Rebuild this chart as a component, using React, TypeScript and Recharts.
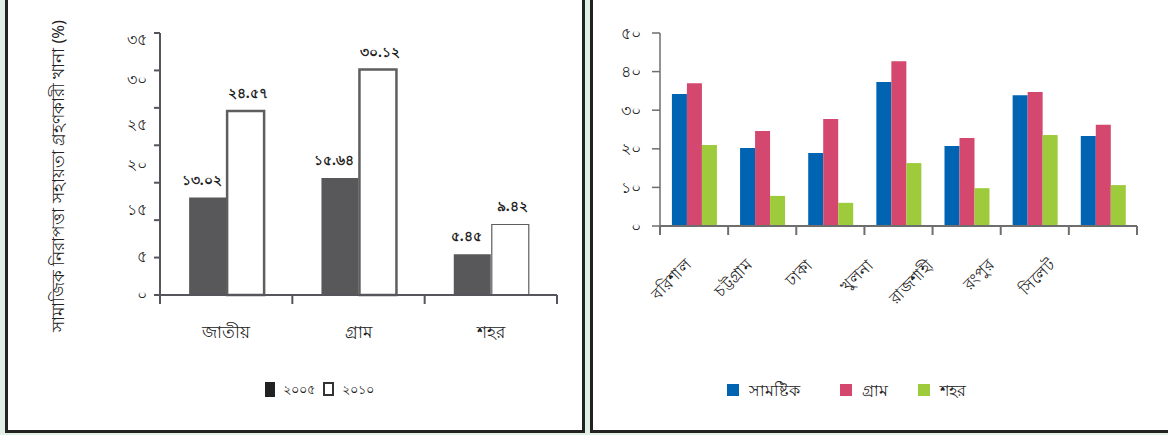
import { BarChart, Bar, XAxis, YAxis, LabelList, Cell } from 'recharts';

const BN_DIGITS = '০১২৩৪৫৬৭৮৯';
const toBn = (s: string | number) => String(s).replace(/\d/g, (d) => BN_DIGITS[+d]);

// left panel: social safety net beneficiary households (%)
const areas = ['জাতীয়', 'গ্রাম', 'শহর'];
const share2005 = [13.02, 15.64, 5.45];
const share2010 = [24.57, 30.12, 9.42];
const years = ['২০০৫', '২০১০'];
const leftTicks = [0, 5, 10, 15, 20, 25, 30, 35];
// the printed tick labels sit a little off the tick marks in the original
const leftLabelPos = [0, 5.1, 11.3, 17.3, 22.7, 28.7, 34];
const leftLabelText = ['০', '৫', '১৫', '২০', '২৫', '৩০', '৩৫'];
const leftTitle = 'সামাজিক নিরাপত্তা সহায়তা গ্রহণকারী খানা (%)';

// right panel: by division
const divisions = ['বরিশাল', 'চট্টগ্রাম', 'ঢাকা', 'খুলনা', 'রাজশাহী', 'রংপুর', 'সিলেট'];
const national = [34.2, 20.2, 18.9, 37.3, 20.7, 33.9, 23.3];
const rural = [37.0, 24.6, 27.7, 42.7, 22.8, 34.7, 26.2];
const urban = [21.0, 7.8, 6.0, 16.3, 9.8, 23.6, 10.6];
const seriesNames = ['সামষ্টিক', 'গ্রাম', 'শহর'];
const rightTicks = [0, 10, 20, 30, 40, 50];

const leftData = areas.map((a, i) => ({ area: a, y2005: share2005[i], y2010: share2010[i] }));
const rightData = divisions.map((d, i) => ({ div: d, national: national[i], rural: rural[i], urban: urban[i] }));

const FONT = '"Noto Sans", "DejaVu Sans", sans-serif';
const AXIS = '#6e6e6e';
const L_AXIS = '#55555c';
const DARK = '#58585a';
const COLORS = ['#0064b2', '#d4476e', '#9ecb3c'];

// layout
const L_W = 580, L_H = 433, L_M = { top: 33, right: 28, left: 0, bottom: 0 };
const L_YW = 155, L_XH = 138;
const L_PLOT_H = L_H - L_M.top - L_XH;
const L_MAX = 35;
const L_BAND = (L_W - L_YW - L_M.right) / areas.length;
const R_W = 578, R_H = 433, R_M = { top: 33, right: 31, left: 0, bottom: 0 };
const R_PLOT_LEFT = 70;
const R_BAND = (R_W - R_PLOT_LEFT - R_M.right) / divisions.length;

const LeftYTick = (props: any) => {
  const { y, index } = props;
  const text = leftLabelText[index];
  if (text === undefined) return null;
  const ly = y + ((leftTicks[index] - leftLabelPos[index]) * L_PLOT_H) / L_MAX;
  return (
    <text x={L_YW - 13} y={ly} dy={5} textAnchor="end" fontSize={16} fill="#222" fontFamily={FONT}>
      {text}
    </text>
  );
};

const LeftXTick = (props: any) => {
  const { x, y, payload, index } = props;
  const last = index === areas.length - 1;
  return (
    <g>
      <line x1={x - L_BAND / 2} x2={x - L_BAND / 2} y1={y} y2={y + 9} stroke={L_AXIS} strokeWidth={2} />
      {last && <line x1={x + L_BAND / 2} x2={x + L_BAND / 2} y1={y} y2={y + 9} stroke={L_AXIS} strokeWidth={2} />}
      <text x={x} y={y + 43} textAnchor="middle" fontSize={17} fill="#222" fontFamily={FONT}>
        {payload.value}
      </text>
    </g>
  );
};

const RightXTick = (props: any) => {
  const { x, y, payload, index } = props;
  const last = index === divisions.length - 1;
  // labels in the original are packed slightly tighter than the bands
  const lx = R_PLOT_LEFT + (x - R_PLOT_LEFT) * 0.89 + 2;
  const ly = y + 40;
  return (
    <g>
      <line x1={x - R_BAND / 2} x2={x - R_BAND / 2} y1={y} y2={y + 9} stroke={AXIS} strokeWidth={2} />
      {last && <line x1={x + R_BAND / 2} x2={x + R_BAND / 2} y1={y} y2={y + 9} stroke={AXIS} strokeWidth={2} />}
      <text x={lx} y={ly} textAnchor="end" fontSize={16} fill="#222" fontFamily={FONT} transform={`rotate(-45 ${lx} ${ly})`}>
        {payload.value}
      </text>
    </g>
  );
};

const LeftTitle = () => (
  <text x={59} y={176} transform="rotate(-90 59 176)" textAnchor="middle" fontSize={16.5} fill="#222" fontFamily={FONT}>
    {leftTitle}
  </text>
);

export default function App() {
  return (
    <div style={{ position: 'absolute', left: 0, top: 0, width: 1168, height: 435, background: '#e1f0e7', fontFamily: FONT, overflow: 'hidden' }}>
      {/* panel frames */}
      <div style={{ position: 'absolute', left: 5, top: -3, width: 574, height: 430, border: '3px solid #222', background: '#fff' }} />
      <div style={{ position: 'absolute', left: 590, top: -3, width: 577, height: 430, borderTop: '3px solid #222', borderLeft: '3px solid #222', borderBottom: '3px solid #222', borderRight: '1px solid #aaa', background: '#fff' }} />

      {/* left chart */}
      <div style={{ position: 'absolute', left: 5, top: 0 }}>
        <BarChart width={L_W} height={L_H} data={leftData} margin={L_M} barCategoryGap="22%" barGap={1}>
          <XAxis dataKey="area" height={L_XH} interval={0} tickSize={0} tickMargin={0} tickLine={false} axisLine={{ stroke: L_AXIS, strokeWidth: 2 }} tick={<LeftXTick />} />
          <YAxis width={L_YW} type="number" domain={[0, L_MAX]} ticks={leftTicks} interval={0} tickSize={6} tickMargin={0}
            axisLine={{ stroke: L_AXIS, strokeWidth: 2 }} tickLine={{ stroke: L_AXIS, strokeWidth: 2 }} tick={<LeftYTick />} label={<LeftTitle />} />
          <Bar dataKey="y2005" fill={DARK} isAnimationActive={false}>
            <LabelList dataKey="y2005" position="top" offset={13} dx={-6} formatter={(v: any) => toBn(Number(v).toFixed(2))} style={{ fontSize: 14, fontWeight: 700, fill: '#222', fontFamily: FONT }} />
          </Bar>
          <Bar dataKey="y2010" fill="#fff" stroke="#5e5e5e" isAnimationActive={false}>
            {leftData.map((d, i) => (
              <Cell key={d.area} strokeWidth={i === 2 ? 1.2 : 2.5} />
            ))}
            <LabelList dataKey="y2010" position="top" offset={13} dx={2} formatter={(v: any) => toBn(Number(v).toFixed(2))} style={{ fontSize: 14, fontWeight: 700, fill: '#222', fontFamily: FONT }} />
          </Bar>
        </BarChart>
      </div>

      {/* left legend */}
      <div style={{ position: 'absolute', left: 265, top: 382, width: 10, height: 15, background: '#222' }} />
      <div style={{ position: 'absolute', left: 283, top: 381, fontSize: 13, color: '#222', lineHeight: '17px' }}>{years[0]}</div>
      <div style={{ position: 'absolute', left: 323, top: 382, width: 7, height: 10, border: '2.5px solid #333', background: '#fff' }} />
      <div style={{ position: 'absolute', left: 342, top: 381, fontSize: 13, color: '#222', lineHeight: '17px' }}>{years[1]}</div>

      {/* right chart */}
      <div style={{ position: 'absolute', left: 590, top: 0 }}>
        <BarChart width={R_W} height={R_H} data={rightData} margin={R_M} barCategoryGap="17.5%" barGap={0}>
          <XAxis dataKey="div" height={207} interval={0} tickSize={0} tickMargin={0} tickLine={false} axisLine={{ stroke: AXIS, strokeWidth: 2 }} tick={<RightXTick />} />
          <YAxis width={R_PLOT_LEFT} type="number" domain={[0, 50]} ticks={rightTicks} interval={0} tickSize={8} tickMargin={11}
            tickFormatter={(v: number) => toBn(v)} axisLine={{ stroke: AXIS, strokeWidth: 1.5 }} tickLine={{ stroke: AXIS, strokeWidth: 1.5 }}
            tick={{ fontSize: 16, fill: '#222', fontFamily: FONT }} />
          <Bar dataKey="national" fill={COLORS[0]} isAnimationActive={false} />
          <Bar dataKey="rural" fill={COLORS[1]} isAnimationActive={false} />
          <Bar dataKey="urban" fill={COLORS[2]} isAnimationActive={false} />
        </BarChart>
      </div>

      {/* right legend */}
      {seriesNames.map((name, i) => (
        <div key={name} style={{ position: 'absolute', left: [727, 840, 918][i], top: 380, display: 'flex', alignItems: 'center', gap: 10, fontSize: 16, color: '#222', lineHeight: '20px' }}>
          <span style={{ display: 'inline-block', width: 12, height: 12, background: COLORS[i] }} />
          <span>{name}</span>
        </div>
      ))}
    </div>
  );
}
